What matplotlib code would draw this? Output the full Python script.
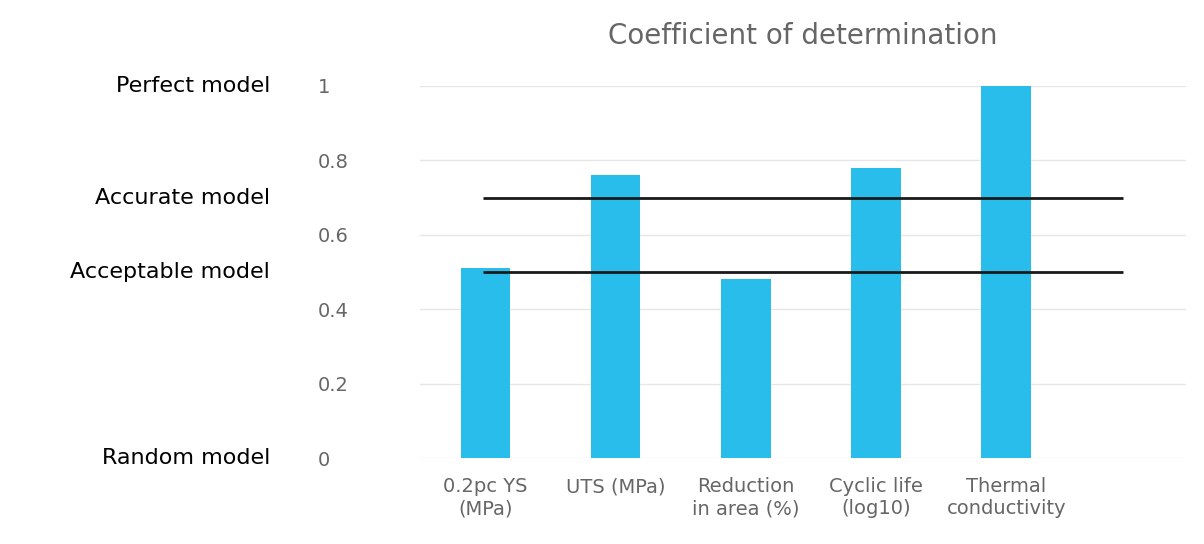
import matplotlib.pyplot as plt

categories = ["0.2pc YS\n(MPa)", "UTS (MPa)", "Reduction\nin area (%)", "Cyclic life\n(log10)", "Thermal\nconductivity"]
r2 = [0.51, 0.76, 0.48, 0.78, 1.0]
thresholds = [0.7, 0.5]
side_labels = ["Perfect model", "Accurate model", "Acceptable model", "Random model"]
side_values = [1.0, 0.7, 0.5, 0.0]

fig = plt.figure(figsize=(12.04, 5.44), dpi=100)
ax = fig.add_axes([0.349, 0.158, 0.636, 0.684])

x = range(len(categories))
ax.bar(x, r2, width=0.38, color="#29BDEB", zorder=2, clip_on=False)
# threshold lines
for t in thresholds:
    ax.hlines(t, -0.02, 4.9, color="#1a1a1a", linewidth=2, zorder=3)

ax.set_ylim(0, 1)
ax.set_xlim(-0.5, 5.38)
ax.set_yticks([0, 0.2, 0.4, 0.6, 0.8, 1])
ax.set_yticklabels(["0", "0.2", "0.4", "0.6", "0.8", "1"])
ax.set_xticks(list(x))
ax.set_xticklabels(categories)
ax.tick_params(length=0, colors="#666666", labelsize=14, pad=14)
ax.tick_params(axis="y", pad=74)
for lab in ax.get_yticklabels():
    lab.set_horizontalalignment("left")
ax.yaxis.grid(True, color="#e6e6e6", linewidth=1, zorder=0)
for s in ax.spines.values():
    s.set_visible(False)

ax.set_title("Coefficient of determination", fontsize=20, color="#666666", pad=30)

# labels on the far left
for lab, v in zip(side_labels, side_values):
    yf = 0.158 + 0.684 * v
    fig.text(270 / 1204, yf, lab, ha="right", va="center", fontsize=16, color="black")

fig.savefig("out.png", dpi=100)
